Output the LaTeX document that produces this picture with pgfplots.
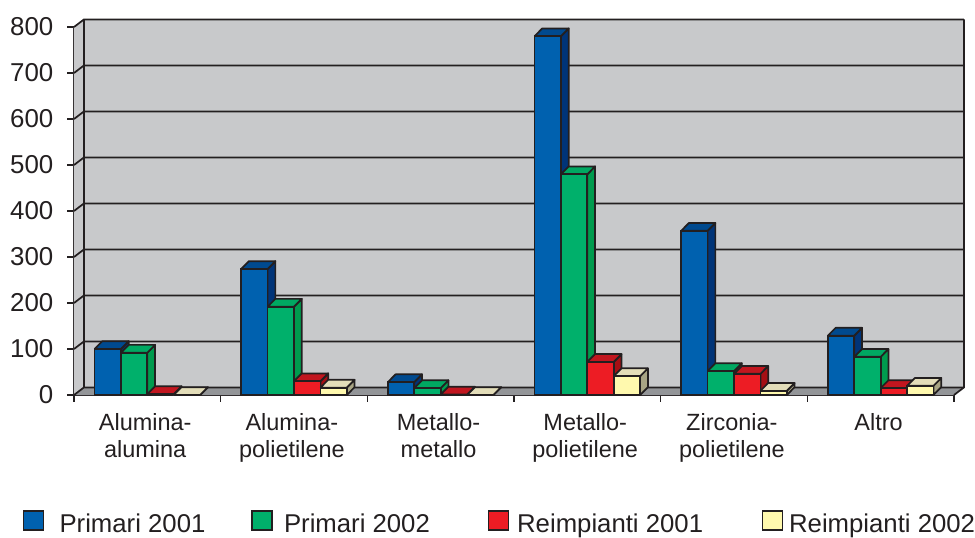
\documentclass[border=0pt]{standalone}
\usepackage{fontspec}
\setmainfont{Liberation Sans}
\usepackage{pgfplots}
\usepackage{pgfplotstable}
\pgfplotsset{compat=1.18}

\definecolor{linec}{HTML}{231F20}
\definecolor{wallc}{HTML}{C8C9CB}
\definecolor{floorc}{HTML}{939598}
\definecolor{bluef}{HTML}{0061AF}
\definecolor{bluet}{HTML}{004A8F}
\definecolor{blues}{HTML}{003478}
\definecolor{greenf}{HTML}{00B06B}
\definecolor{greent}{HTML}{00A862}
\definecolor{greens}{HTML}{009B4E}
\definecolor{redf}{HTML}{ED1C24}
\definecolor{redt}{HTML}{C1161F}
\definecolor{reds}{HTML}{A50F14}
\definecolor{yelf}{HTML}{FFF9AE}
\definecolor{yelt}{HTML}{E3DDB9}
\definecolor{yels}{HTML}{A8A484}

\pgfplotstableread{
g    a    b    c   d
0.5  100  92   2   0
1.5  274  192  30  16
2.5  28   15   1   0
3.5  780  480  72  41
4.5  357  52   46  9
5.5  129  83   15  20
}\datatbl

% side and top face of every bar of one series: column, bar index, top, side
\newcommand{\barfaces}[4]{%
  \pgfplotsinvokeforeach{0,...,5}{%
    \pgfplotstablegetelem{##1}{#1}\of\datatbl
    \pgfmathsetmacro{\vv}{\pgfplotsretval}%
    \pgfmathsetmacro{\vt}{\vv+17}%
    \pgfmathsetmacro{\xl}{##1+0.14+0.18*#2}%
    \pgfmathsetmacro{\xr}{\xl+0.18}%
    \pgfmathsetmacro{\xlb}{\xl+0.053}%
    \pgfmathsetmacro{\xrb}{\xr+0.053}%
    \edef\temp{\noexpand\addplot[fill=#4,draw=linec,line width=1.3pt,line join=round,forget plot]
      coordinates {(\xr,0) (\xrb,17) (\xrb,\vt) (\xr,\vv) (\xr,0)};
      \noexpand\addplot[fill=#3,draw=linec,line width=1.3pt,line join=round,forget plot]
      coordinates {(\xl,\vv) (\xr,\vv) (\xrb,\vt) (\xlb,\vt) (\xl,\vv)};}%
    \temp
  }%
}

\begin{document}
\begin{tikzpicture}
\path[use as bounding box] (-55.5pt,-106.5pt) rectangle (675.75pt,296.25pt);
\begin{axis}[
    scale only axis,
    width=660pt, height=276pt,
    xmin=0, xmax=6, ymin=0, ymax=800,
    clip=false,
    axis x line*=bottom,
    axis y line*=left,
    axis line style={draw=linec,line width=1.3pt,-},
    tick align=outside,
    tick style={draw=linec,line width=1.2pt},
    major tick length=5pt,
    minor tick length=5pt,
    ytick={0,100,...,800},
    xtick={0.5,1.5,...,5.5},
    minor xtick={0,1,...,6},
    major x tick style={draw=none},
    xticklabels={{Alumina-\\alumina},{Alumina-\\polietilene},{Metallo-\\metallo},{Metallo-\\polietilene},{Zirconia-\\polietilene},{Altro}},
    xticklabel style={align=center,font=\fontsize{17.6}{20.5}\selectfont,text=linec,yshift=-5pt,xshift=-1.6pt},
    yticklabel style={font=\fontsize{19.4}{23}\selectfont,text=linec,xshift=-7pt},
    /pgf/number format/assume math mode=true,
    legend columns=4,
    legend style={at={(-0.0587,-0.346)},anchor=west,draw=none,fill=none,inner sep=0pt,
      font=\fontsize{19.3}{21}\selectfont,text=linec,
      nodes={inner sep=0pt},
      /tikz/column 1/.style={column sep=11.5pt},
      /tikz/column 2/.style={column sep=34.25pt},
      /tikz/column 3/.style={column sep=8.5pt},
      /tikz/column 4/.style={column sep=43.25pt},
      /tikz/column 5/.style={column sep=6pt},
      /tikz/column 6/.style={column sep=44pt},
      /tikz/column 7/.style={column sep=4.3pt}},
    legend cell align=left,
    legend image code/.code={\draw[#1,line width=1.2pt] (0pt,-4.5pt) rectangle (15pt,9.5pt);},
]
% walls and floor
\addplot[fill=wallc,draw=none,forget plot] coordinates {(0,0) (0.068,16.5) (6.068,16.5) (6.068,816.5) (0.068,816.5) (0,800) (0,0)};
\addplot[fill=floorc,draw=none,forget plot] coordinates {(0,0) (6,0) (6.068,16.5) (0.068,16.5) (0,0)};
% grid lines, each runs over the side wall and the back wall
\pgfplotsinvokeforeach{0,100,...,800}{%
  \pgfmathsetmacro{\vb}{#1+16.5}%
  \edef\temp{\noexpand\addplot[draw=linec,line width=1.3pt,forget plot]
    coordinates {(0,#1) (0.068,\vb) (6.068,\vb)};}%
  \temp
}
\addplot[draw=linec,line width=1.3pt,forget plot] coordinates {(0.068,16.5) (0.068,816.5)};
\addplot[draw=linec,line width=1.3pt,forget plot] coordinates {(6,0) (6.068,16.5) (6.068,816.5)};
% bars, series by series so each covers the side of the one before
\barfaces{a}{0}{bluet}{blues}
\addplot[ybar,bar width=0.18,bar shift=-0.27,fill=bluef,draw=linec,line width=1.3pt,forget plot] table[x=g,y=a]{\datatbl};
\barfaces{b}{1}{greent}{greens}
\addplot[ybar,bar width=0.18,bar shift=-0.09,fill=greenf,draw=linec,line width=1.3pt,forget plot] table[x=g,y=b]{\datatbl};
\barfaces{c}{2}{redt}{reds}
\addplot[ybar,bar width=0.18,bar shift=0.09,fill=redf,draw=linec,line width=1.3pt,forget plot] table[x=g,y=c]{\datatbl};
\barfaces{d}{3}{yelt}{yels}
\addplot[ybar,bar width=0.18,bar shift=0.27,fill=yelf,draw=linec,line width=1.3pt,forget plot] table[x=g,y=d]{\datatbl};
\addlegendimage{fill=bluef,draw=linec}
\addlegendentry{Primari 2001}
\addlegendimage{fill=greenf,draw=linec}
\addlegendentry{Primari 2002}
\addlegendimage{fill=redf,draw=linec}
\addlegendentry{Reimpianti 2001}
\addlegendimage{fill=yelf,draw=linec}
\addlegendentry{Reimpianti 2002}
\end{axis}
\end{tikzpicture}
\end{document}
